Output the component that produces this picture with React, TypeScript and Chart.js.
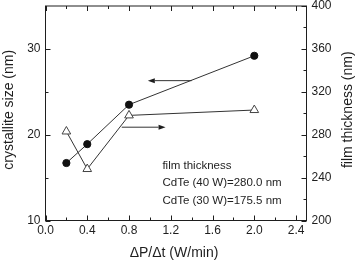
import React, { useEffect, useRef } from "react";
import { Chart, registerables } from "chart.js";

Chart.register(...registerables);

// ---- data ----
const powerRates = [0.2, 0.4, 0.8, 2.0];
const crystalliteSize = [16.7, 18.9, 23.5, 29.2];
const filmThickness = [283, 248, 298, 303];

// ---- tick values ----
const xMajorTicks = [0, 0.4, 0.8, 1.2, 1.6, 2.0, 2.4];
const xMinorTicks = [0.2, 0.6, 1.0, 1.4, 1.8, 2.2];
const leftMajorTicks = [10, 20, 30];
const leftMinorTicks = [15, 25];
const rightMajorTicks = [200, 240, 280, 320, 360, 400];
const rightMinorTicks = [220, 260, 300, 340, 380];

// ---- titles ----
const xTitle = "\u0394P/\u0394t (W/min)";
const leftTitle = "crystallite size (nm)";
const rightTitle = "film thickness (nm)";

// ---- arrows (data coords) ----
const leftArrowX = [1.4, 0.98];
const leftArrowY = 26.3; // left axis
const rightArrowX = [0.73, 1.15];
const rightArrowY = 287; // right axis

// ---- note ----
const noteLines = ["film thickness", "CdTe (40 W)=280.0 nm", "CdTe (30 W)=175.5 nm"];
const noteX = 1.12;
const noteY = 16.4; // left axis

const FONT = "'Liberation Sans', Arial, Helvetica, sans-serif";
const INK = "#1e1e1e";

const decorPlugin = {
  id: "decor",
  afterDatasetsDraw(chart: any) {
    const { ctx, chartArea, scales } = chart;
    const { left, right, top, bottom } = chartArea;
    const x = scales.x, yl = scales.y, yr = scales.y2;
    ctx.save();
    ctx.strokeStyle = INK;
    ctx.lineWidth = 1;
    ctx.strokeRect(left, top, right - left, bottom - top);
    const major = 5, minor = 3;
    ctx.beginPath();
    const xt = (vals: number[], len: number) => {
      vals.forEach((v) => {
        const px = Math.round(x.getPixelForValue(v)) + 0.5;
        ctx.moveTo(px, bottom);
        ctx.lineTo(px, bottom - len);
        ctx.moveTo(px, top);
        ctx.lineTo(px, top + len);
      });
    };
    xt(xMajorTicks, major);
    xt(xMinorTicks, minor);
    const lt = (vals: number[], len: number) => {
      vals.forEach((v) => {
        const py = Math.round(yl.getPixelForValue(v)) + 0.5;
        ctx.moveTo(left, py);
        ctx.lineTo(left + len, py);
      });
    };
    lt(leftMajorTicks, major);
    lt(leftMinorTicks, minor);
    const rt = (vals: number[], len: number) => {
      vals.forEach((v) => {
        const py = Math.round(yr.getPixelForValue(v)) + 0.5;
        ctx.moveTo(right, py);
        ctx.lineTo(right - len, py);
      });
    };
    rt(rightMajorTicks, major);
    rt(rightMinorTicks, minor);
    ctx.stroke();

    const arrow = (x0: number, x1: number, py: number) => {
      const p0 = x.getPixelForValue(x0);
      const p1 = x.getPixelForValue(x1);
      const dir = Math.sign(p1 - p0);
      const hl = 7, hw = 2.5;
      ctx.beginPath();
      ctx.moveTo(p0, py);
      ctx.lineTo(p1 - dir * hl, py);
      ctx.stroke();
      ctx.beginPath();
      ctx.moveTo(p1, py);
      ctx.lineTo(p1 - dir * hl, py - hw);
      ctx.lineTo(p1 - dir * hl, py + hw);
      ctx.closePath();
      ctx.fillStyle = INK;
      ctx.fill();
    };
    ctx.strokeStyle = "#333";
    arrow(leftArrowX[0], leftArrowX[1], yl.getPixelForValue(leftArrowY));
    arrow(rightArrowX[0], rightArrowX[1], yr.getPixelForValue(rightArrowY));

    ctx.fillStyle = INK;
    ctx.font = `11.5px ${FONT}`;
    ctx.textAlign = "left";
    ctx.textBaseline = "middle";
    const nx = x.getPixelForValue(noteX);
    const ny = yl.getPixelForValue(noteY);
    noteLines.forEach((t, i) => ctx.fillText(t, nx, ny + i * 17.5));

    // axis titles (both y titles read bottom-to-top)
    ctx.font = `14px ${FONT}`;
    ctx.textAlign = "center";
    ctx.textBaseline = "middle";
    const cy = (top + bottom) / 2 - 3.5;
    ctx.save();
    ctx.translate(9, cy);
    ctx.rotate(-Math.PI / 2);
    ctx.fillText(leftTitle, 0, 0);
    ctx.restore();
    ctx.save();
    ctx.translate(chart.width - 9, cy);
    ctx.rotate(-Math.PI / 2);
    ctx.fillText(rightTitle, 0, 0);
    ctx.restore();
    ctx.fillText(xTitle, (left + right) / 2 - 2, chart.height - 9);
    ctx.restore();
  },
};

export default function App() {
  const ref = useRef<HTMLCanvasElement>(null);
  useEffect(() => {
    if (!ref.current) return;
    const tickFont = { family: FONT, size: 12 };
    const chart = new Chart(ref.current, {
      type: "scatter",
      data: {
        datasets: [
          {
            data: powerRates.map((x, i) => ({ x, y: crystalliteSize[i] })),
            yAxisID: "y",
            showLine: true,
            borderColor: "#333",
            borderWidth: 1,
            pointStyle: "circle",
            pointRadius: 3.6,
            pointBackgroundColor: "#111",
            pointBorderColor: "#111",
            pointBorderWidth: 1,
          },
          {
            data: powerRates.map((x, i) => ({ x, y: filmThickness[i] })),
            yAxisID: "y2",
            showLine: true,
            borderColor: "#333",
            borderWidth: 1,
            pointStyle: "triangle",
            pointRadius: 5,
            pointBackgroundColor: "#fff",
            pointBorderColor: "#444",
            pointBorderWidth: 1,
          },
        ],
      },
      options: {
        animation: false,
        responsive: true,
        maintainAspectRatio: false,
        events: [],
        layout: { padding: { top: 5.5, left: 0, right: 0, bottom: 0 } },
        plugins: { legend: { display: false }, tooltip: { enabled: false } },
        scales: {
          x: {
            type: "linear",
            min: 0,
            max: 2.5,
            grid: { display: false, drawTicks: false },
            border: { display: false },
            ticks: {
              stepSize: 0.4,
              includeBounds: false,
              padding: 3,
              color: INK,
              font: tickFont,
              callback: (v: any) => Number(v).toFixed(1),
            },
            afterFit: (s: any) => {
              s.height = 41.5;
              s.paddingLeft = 0;
              s.paddingRight = 0;
            },
          },
          y: {
            type: "linear",
            position: "left",
            min: 10,
            max: 35,
            grid: { display: false, drawTicks: false },
            border: { display: false },
            ticks: {
              stepSize: 10,
              includeBounds: false,
              padding: 5,
              color: INK,
              font: tickFont,
            },
            afterFit: (s: any) => {
              s.width = 45.5;
              s.paddingTop = 0;
              s.paddingBottom = 0;
            },
          },
          y2: {
            type: "linear",
            position: "right",
            min: 200,
            max: 400,
            grid: { display: false, drawTicks: false },
            border: { display: false },
            ticks: {
              stepSize: 40,
              includeBounds: false,
              padding: 5,
              color: INK,
              font: tickFont,
            },
            afterFit: (s: any) => {
              s.width = 50.5;
              s.paddingTop = 0;
              s.paddingBottom = 0;
            },
          },
        },
      },
      plugins: [decorPlugin],
    } as any);
    return () => chart.destroy();
  }, []);
  return (
    <div style={{ position: "absolute", left: 0, top: 0, width: 357, height: 262, background: "#fff" }}>
      <canvas ref={ref} />
    </div>
  );
}
